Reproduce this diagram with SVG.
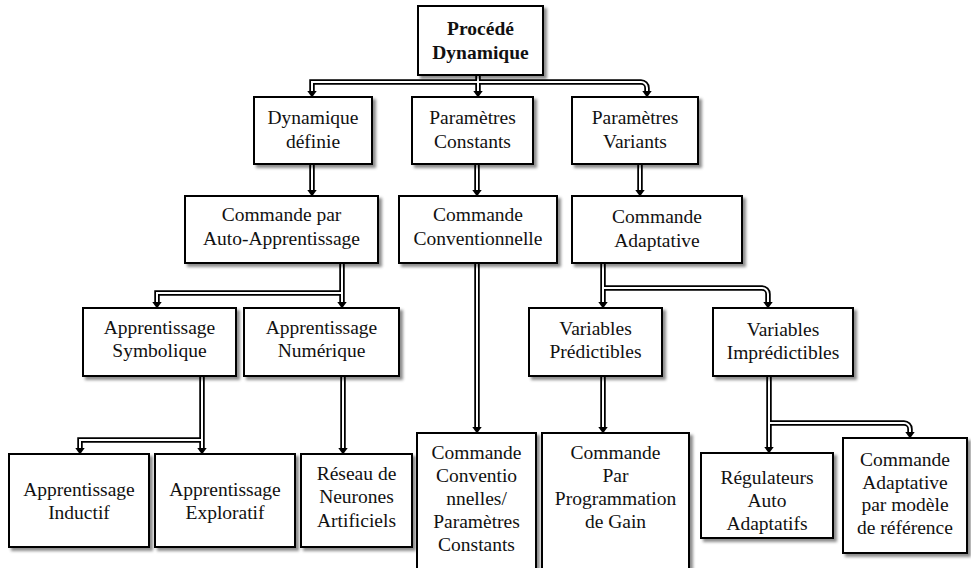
<svg xmlns="http://www.w3.org/2000/svg" width="971" height="568" viewBox="0 0 971 568">
  <defs>
    <filter id="shadow" x="-10%" y="-10%" width="125%" height="130%">
      <feGaussianBlur in="SourceAlpha" stdDeviation="1.6" result="b"/>
      <feOffset in="b" dx="3" dy="3" result="o"/>
      <feFlood flood-color="#000" flood-opacity="0.45"/>
      <feComposite in2="o" operator="in" result="s"/>
      <feMerge>
        <feMergeNode in="s"/>
        <feMergeNode in="SourceGraphic"/>
      </feMerge>
    </filter>
    <marker id="head" markerUnits="userSpaceOnUse" viewBox="0 0 7 10" markerWidth="7" markerHeight="10" refX="0" refY="5" orient="auto">
      <path d="M0,0.3 L6.5,5 L0,9.7 Z" fill="#000"/>
    </marker>
  </defs>
  <style>
    .box rect { fill: #fff; stroke: #000; stroke-width: 2; filter: url(#shadow); }
    .box text { font-size: 19.5px; fill: #111; text-anchor: middle; }
    .box text.bold { font-weight: bold; }
    .outer path { fill: none; stroke: #000; stroke-width: 5.5; marker-end: url(#head); }
    .inner path { fill: none; stroke: #fff; stroke-width: 2; }
  </style>
  <rect width="971" height="568" fill="#fff"/>

  <!-- double-line connectors: black casing first, then the white core -->
  <g id="connectors">
    <g class="outer">
      <path id="c-top-mid" d="M478,75 V91"/>
      <path id="c-top-left" d="M478,82 H312 V91"/>
      <path id="c-top-right" d="M478,82 H641 A6,6 0 0 1 647,88 V91"/>
      <path id="c-def" d="M312,164 V190"/>
      <path id="c-const" d="M477,164 V190"/>
      <path id="c-var" d="M640,164 V190"/>
      <path id="c-auto-num" d="M342,263 V302"/>
      <path id="c-auto-sym" d="M342,293 H157 V302"/>
      <path id="c-conv" d="M477,263 V427"/>
      <path id="c-adapt-pred" d="M603,263 V302"/>
      <path id="c-adapt-impred" d="M603,288 H762 A6,6 0 0 1 768,294 V302"/>
      <path id="c-sym-expl" d="M202,376 V448"/>
      <path id="c-sym-ind" d="M202,440 H80 V448"/>
      <path id="c-num" d="M343,376 V448"/>
      <path id="c-pred" d="M603,377 V427"/>
      <path id="c-impred-reg" d="M769,376 V447"/>
      <path id="c-impred-ref" d="M769,423 H904 A6,6 0 0 1 910,429 V432"/>
    </g>
    <g class="inner">
      <path d="M478,75 V91"/>
      <path d="M478,82 H312 V91"/>
      <path d="M478,82 H641 A6,6 0 0 1 647,88 V91"/>
      <path d="M312,164 V190"/>
      <path d="M477,164 V190"/>
      <path d="M640,164 V190"/>
      <path d="M342,263 V302"/>
      <path d="M342,293 H157 V302"/>
      <path d="M477,263 V427"/>
      <path d="M603,263 V302"/>
      <path d="M603,288 H762 A6,6 0 0 1 768,294 V302"/>
      <path d="M202,376 V448"/>
      <path d="M202,440 H80 V448"/>
      <path d="M343,376 V448"/>
      <path d="M603,377 V427"/>
      <path d="M769,376 V447"/>
      <path d="M769,423 H904 A6,6 0 0 1 910,429 V432"/>
    </g>
  </g>

  <g id="nodes" font-family="'Liberation Serif', 'DejaVu Serif', serif">
  <g id="procede-dynamique" class="box">
    <rect x="418" y="6" width="125" height="69"/>
    <text class="bold" x="480.5" y="35">Procédé</text>
    <text class="bold" x="480.5" y="59">Dynamique</text>
  </g>

  <g id="dynamique-definie" class="box">
    <rect x="254" y="97" width="118" height="67"/>
    <text x="313" y="124">Dynamique</text>
    <text x="313" y="148">définie</text>
  </g>

  <g id="parametres-constants" class="box">
    <rect x="412" y="97" width="121" height="67"/>
    <text x="472.5" y="124">Paramètres</text>
    <text x="472.5" y="148">Constants</text>
  </g>

  <g id="parametres-variants" class="box">
    <rect x="572" y="97" width="126" height="67"/>
    <text x="635" y="124">Paramètres</text>
    <text x="635" y="148">Variants</text>
  </g>

  <g id="commande-auto-apprentissage" class="box">
    <rect x="185" y="196" width="193" height="67"/>
    <text x="281.5" y="221">Commande par</text>
    <text x="281.5" y="245">Auto-Apprentissage</text>
  </g>

  <g id="commande-conventionnelle" class="box">
    <rect x="399" y="196" width="158" height="67"/>
    <text x="478" y="221">Commande</text>
    <text x="478" y="245">Conventionnelle</text>
  </g>

  <g id="commande-adaptative" class="box">
    <rect x="572" y="196" width="170" height="67"/>
    <text x="657" y="223">Commande</text>
    <text x="657" y="247">Adaptative</text>
  </g>

  <g id="apprentissage-symbolique" class="box">
    <rect x="83" y="308" width="153" height="68"/>
    <text x="159.5" y="334">Apprentissage</text>
    <text x="159.5" y="357">Symbolique</text>
  </g>

  <g id="apprentissage-numerique" class="box">
    <rect x="244" y="308" width="155" height="68"/>
    <text x="321.5" y="334">Apprentissage</text>
    <text x="321.5" y="357">Numérique</text>
  </g>

  <g id="variables-predictibles" class="box">
    <rect x="529" y="308" width="133" height="68"/>
    <text x="595.5" y="335">Variables</text>
    <text x="595.5" y="358">Prédictibles</text>
  </g>

  <g id="variables-impredictibles" class="box">
    <rect x="713" y="308" width="140" height="68"/>
    <text x="783" y="336">Variables</text>
    <text x="783" y="359">Imprédictibles</text>
  </g>

  <g id="apprentissage-inductif" class="box">
    <rect x="9" y="454" width="140" height="93"/>
    <text x="79" y="496">Apprentissage</text>
    <text x="79" y="519">Inductif</text>
  </g>

  <g id="apprentissage-exploratif" class="box">
    <rect x="155" y="454" width="140" height="93"/>
    <text x="225" y="496">Apprentissage</text>
    <text x="225" y="519">Exploratif</text>
  </g>

  <g id="reseau-neurones" class="box">
    <rect x="301" y="454" width="111" height="93"/>
    <text x="356.5" y="480">Réseau de</text>
    <text x="356.5" y="503">Neurones</text>
    <text x="356.5" y="527">Artificiels</text>
  </g>

  <g id="commande-conventionnelles-constants" class="box">
    <rect x="417" y="433" width="119" height="142"/>
    <text x="476.5" y="459">Commande</text>
    <text x="476.5" y="482">Conventio</text>
    <text x="476.5" y="505">nnelles/</text>
    <text x="476.5" y="528">Paramètres</text>
    <text x="476.5" y="551">Constants</text>
  </g>

  <g id="commande-programmation-gain" class="box">
    <rect x="542" y="433" width="147" height="142"/>
    <text x="615.5" y="459">Commande</text>
    <text x="615.5" y="482">Par</text>
    <text x="615.5" y="505">Programmation</text>
    <text x="615.5" y="528">de Gain</text>
  </g>

  <g id="regulateurs-auto-adaptatifs" class="box">
    <rect x="701" y="453" width="132" height="85"/>
    <text x="767" y="484">Régulateurs</text>
    <text x="767" y="507">Auto</text>
    <text x="767" y="530">Adaptatifs</text>
  </g>

  <g id="commande-modele-reference" class="box">
    <rect x="843" y="438" width="124" height="115"/>
    <text x="905" y="466">Commande</text>
    <text x="905" y="489">Adaptative</text>
    <text x="905" y="511">par modèle</text>
    <text x="905" y="534">de référence</text>
  </g>
  </g>
</svg>
